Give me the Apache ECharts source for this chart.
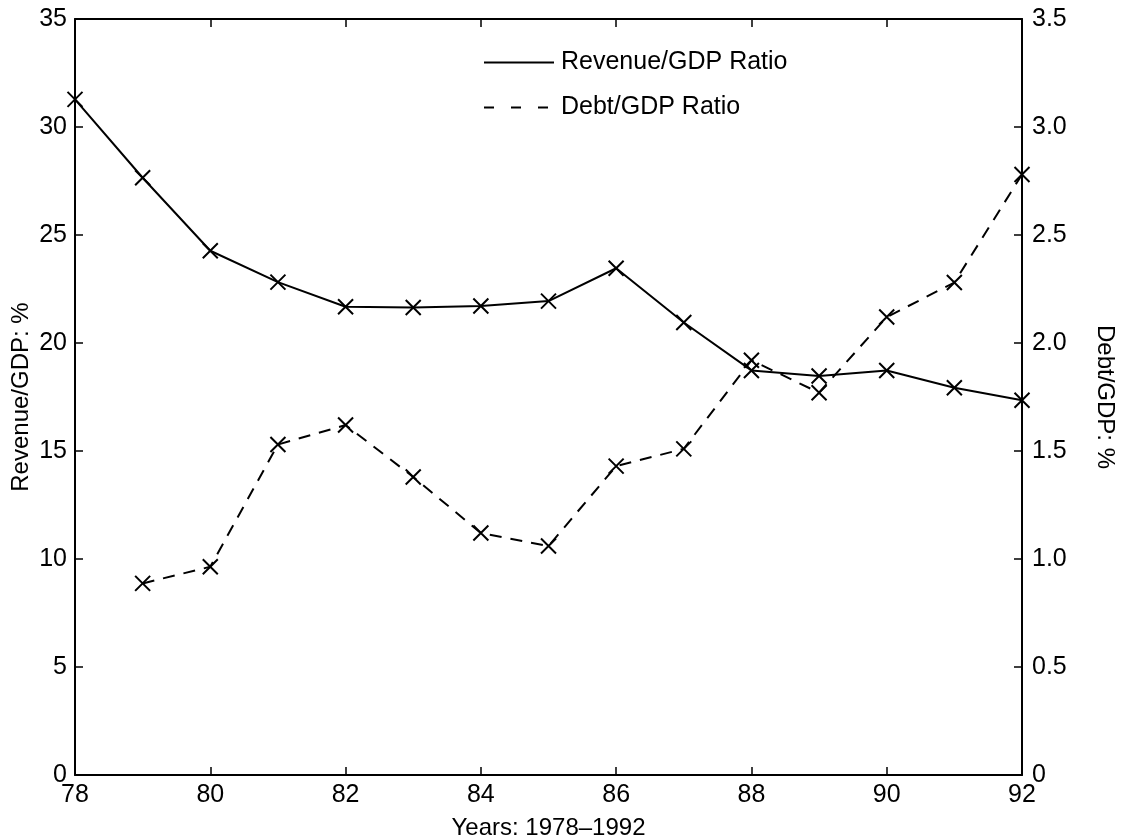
<!DOCTYPE html>
<html>
<head>
<meta charset="utf-8">
<script src="https://cdn.jsdelivr.net/npm/echarts@6/dist/echarts.min.js"></script>
<style>
html,body{margin:0;padding:0;background:#fff;}
#chart{width:1126px;height:838px;}
</style>
</head>
<body>
<div id="chart"></div>
<script>
const years = [78, 79, 80, 81, 82, 83, 84, 85, 86, 87, 88, 89, 90, 91, 92];
const revenueGDP = [31.28, 27.65, 24.27, 22.82, 21.68, 21.64, 21.71, 21.94, 23.46, 20.95, 18.73, 18.47, 18.73, 17.93, 17.35];
const debtGDP = [null, 0.887, 0.964, 1.53, 1.62, 1.38, 1.12, 1.06, 1.43, 1.51, 1.92, 1.77, 2.12, 2.28, 2.78];
const seriesNames = ['Revenue/GDP Ratio', 'Debt/GDP Ratio'];
const xAxisTitle = 'Years: 1978\u20131992';
const leftAxisTitle = 'Revenue/GDP: %';
const rightAxisTitle = 'Debt/GDP: %';

const FONT = '"Liberation Sans", Arial, Helvetica, sans-serif';
const xMark = 'path://M0,0L10,10M10,0L0,10';

const chart = echarts.init(document.getElementById('chart'), null, {renderer: 'canvas'});

const revData = years.map((y, i) => [y, revenueGDP[i]]);
const debtData = years.map((y, i) => [y, debtGDP[i]]).filter(d => d[1] !== null);

const option = {
  backgroundColor: '#fff',
  animation: false,
  textStyle: {fontFamily: FONT, color: '#000'},
  grid: {left: 75, right: 104, top: 19, bottom: 63, containLabel: false, outerBoundsMode: 'none'},
  legend: {
    orient: 'vertical',
    left: 478,
    top: 45,
    itemWidth: 70,
    itemHeight: 24,
    itemGap: 20,
    data: [{name: seriesNames[0]}, {name: seriesNames[1], lineStyle: {type: [10, 17]}}],
    textStyle: {fontFamily: FONT, fontSize: 25, lineHeight: 24, color: '#000', padding: [0, 0, 0, 2]},
    itemStyle: {opacity: 0},
    inactiveColor: '#000',
    selectedMode: false
  },
  xAxis: [{
    type: 'value',
    min: 78, max: 92, interval: 2,
    position: 'bottom',
    name: xAxisTitle,
    nameLocation: 'middle',
    nameGap: 41,
    nameMoveOverlap: false,
    nameTextStyle: {fontFamily: FONT, fontSize: 24, color: '#000'},
    axisLine: {show: true, onZero: false, lineStyle: {color: '#000', width: 2}},
    axisTick: {show: true, inside: true, length: 8, lineStyle: {color: '#000', width: 1.5}},
    axisLabel: {fontFamily: FONT, fontSize: 25, color: '#000', margin: 8},
    splitLine: {show: false}
  }, {
    type: 'value',
    min: 78, max: 92, interval: 2,
    position: 'top',
    axisLine: {show: true, onZero: false, lineStyle: {color: '#000', width: 2}},
    axisTick: {show: true, inside: true, length: 8, lineStyle: {color: '#000', width: 1.5}},
    axisLabel: {show: false},
    splitLine: {show: false}
  }],
  yAxis: [{
    type: 'value',
    min: 0, max: 35, interval: 5,
    position: 'left',
    name: leftAxisTitle,
    nameLocation: 'middle',
    nameGap: 42,
    nameMoveOverlap: false,
    nameTextStyle: {fontFamily: FONT, fontSize: 24, color: '#000'},
    axisLine: {show: true, onZero: false, lineStyle: {color: '#000', width: 2}},
    axisTick: {show: true, inside: true, length: 8, lineStyle: {color: '#000', width: 1.5}},
    axisLabel: {fontFamily: FONT, fontSize: 25, color: '#000', margin: 8},
    splitLine: {show: false}
  }, {
    type: 'value',
    min: 0, max: 3.5, interval: 0.5,
    position: 'right',
    name: rightAxisTitle,
    nameLocation: 'middle',
    nameRotate: -90,
    nameGap: 71,
    nameMoveOverlap: false,
    nameTextStyle: {fontFamily: FONT, fontSize: 24, color: '#000'},
    axisLine: {show: true, onZero: false, lineStyle: {color: '#000', width: 2}},
    axisTick: {show: true, inside: true, length: 8, lineStyle: {color: '#000', width: 1.5}},
    axisLabel: {fontFamily: FONT, fontSize: 25, color: '#000', margin: 10,
      formatter: v => v === 0 ? '0' : v.toFixed(1)},
    splitLine: {show: false}
  }],
  series: [{
    name: seriesNames[0],
    type: 'line',
    xAxisIndex: 0,
    yAxisIndex: 0,
    data: revData,
    symbol: xMark,
    symbolSize: 15,
    showSymbol: true,
    showAllSymbol: true,
    lineStyle: {color: '#000', width: 2, type: 'solid'},
    itemStyle: {color: 'transparent', borderColor: '#000', borderWidth: 2},
    color: '#000',
    z: 3
  }, {
    name: seriesNames[1],
    type: 'line',
    xAxisIndex: 0,
    yAxisIndex: 1,
    data: debtData,
    symbol: xMark,
    symbolSize: 15,
    showSymbol: true,
    showAllSymbol: true,
    lineStyle: {color: '#000', width: 2, type: [12, 9]},
    itemStyle: {color: 'transparent', borderColor: '#000', borderWidth: 2},
    color: '#000',
    z: 3
  }]
};
chart.setOption(option);
</script>
</body>
</html>
